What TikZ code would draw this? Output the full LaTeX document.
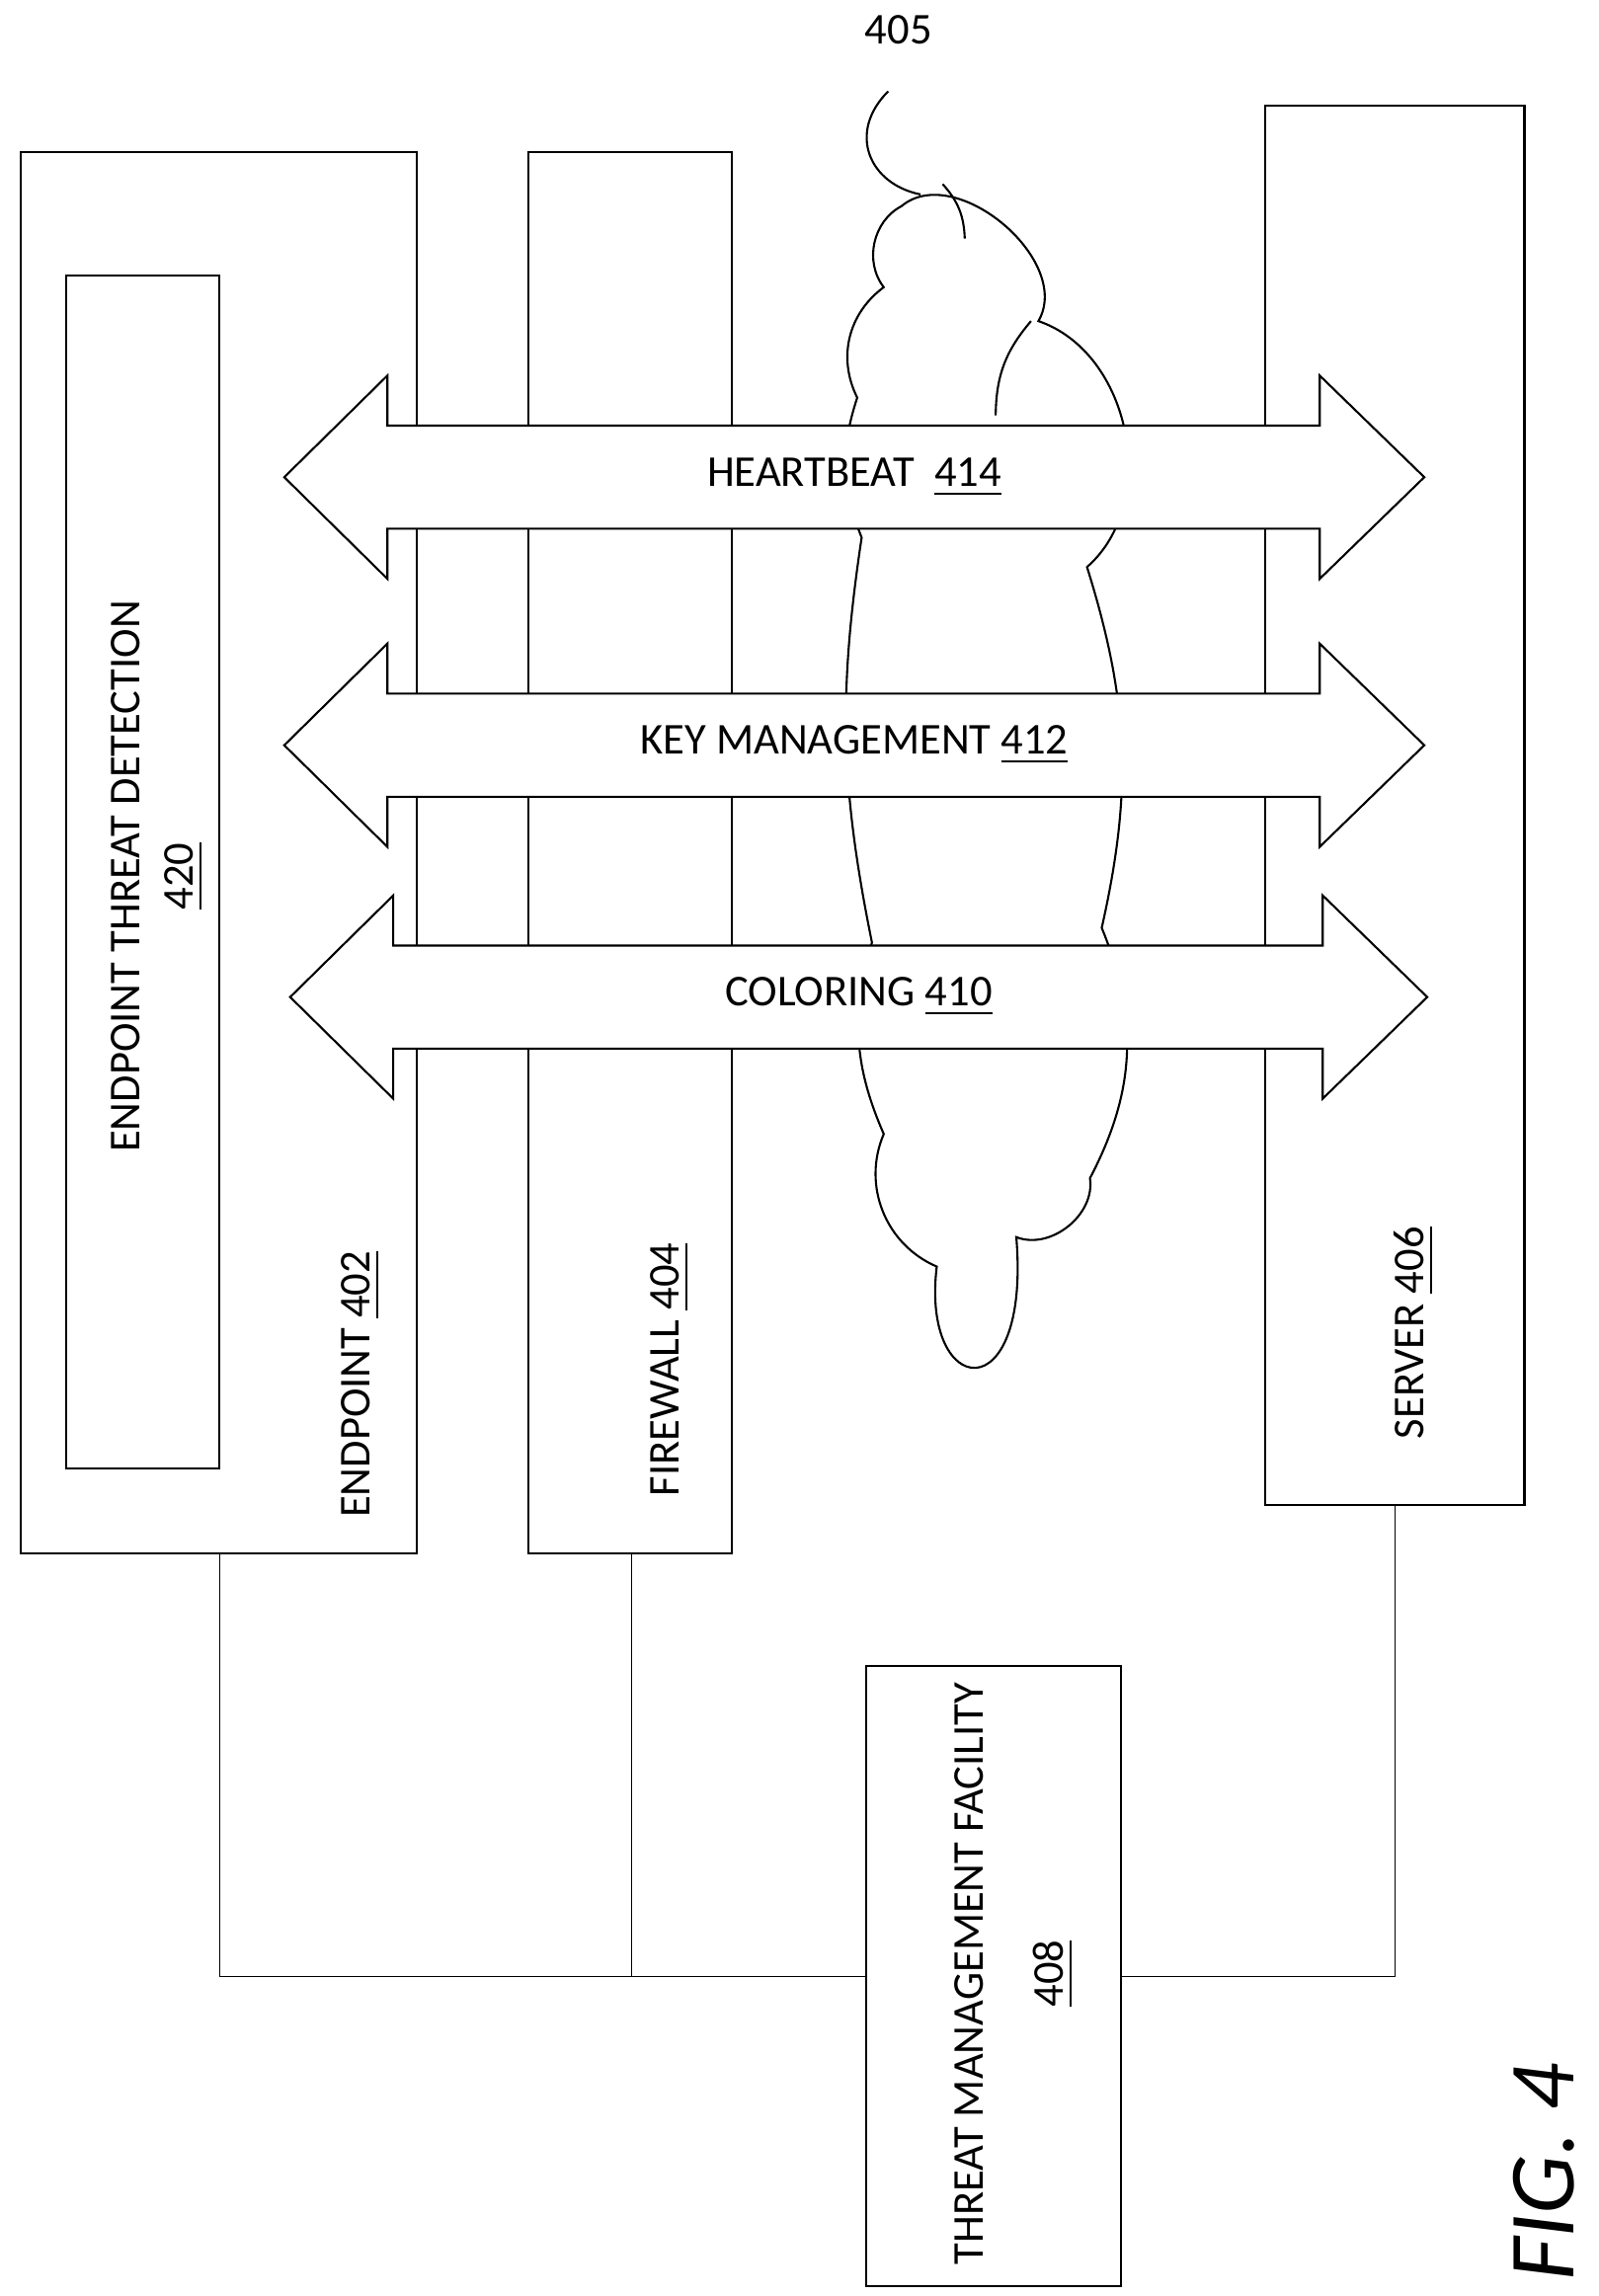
\documentclass[tikz,border=0pt]{standalone}
\usepackage{fontspec}
\setmainfont{Carlito}
\usetikzlibrary{shapes.arrows}

\begin{document}
\begin{tikzpicture}[x=0.01cm,y=-0.01cm,
            box-node/.style={draw,thin},
            label-text/.style={rotate=90,font=\fontsize{8.5}{10}\selectfont},
            flow-arrow/.style={draw,fill=white,thin},
            link/.style={draw,very thin},
        ]
            \useasboundingbox (0,0) rectangle (1085,1559);
            % boxes
            \draw[box-node] (14,103) rectangle (283,1055);
            \draw[box-node] (45,187) rectangle (149,997);
            \draw[box-node] (359,103) rectangle (497,1055);
            \draw[box-node] (859,72) rectangle (1035,1022);
            \draw[box-node] (588,1131) rectangle (761,1552);
            \coordinate (ep) at (149,1055);
            \coordinate (fw) at (429,1055);
            \coordinate (sv) at (947,1022);
            \coordinate (tmfl) at (588,1342);
            \coordinate (tmfr) at (761,1342);

            \node[label-text] (epl) at (245,940) {ENDPOINT \underline{402}};
            \node[label-text] (etd) at (85,595) {ENDPOINT THREAT DETECTION};
            \node[label-text] (etdn) at (125,595) {\underline{420}};
            \node[label-text] (fwl) at (455,930) {FIREWALL \underline{404}};
            \node[label-text] (svl) at (960,905) {SERVER \underline{406}};
            \node[label-text] (tmf) at (658,1340) {THREAT MANAGEMENT FACILITY};
            \node[label-text] (tmfn) at (715,1340) {\underline{408}};

            % cloud
            \draw[thin] (612,140) to[bend left=80] (705,218)
                to[bend left=60] (738,385) to[bend left=15] (748,630)
                to[bend left=25] (740,800) to[bend left=60] (690,840)
                .. controls (700,960) and (625,950) .. (636,860)
                to[bend left=45] (600,770)
                to[bend left=20] (592,640) to[bend left=10] (585,365)
                to[bend left=20] (582,270) to[bend left=40] (600,195)
                to[bend left=50] (612,140);
            \draw[thin] (640,125) to[bend left=20] (655,162);
            \draw[thin] (700,218) to[bend right=20] (676,282);
            \node (cloudn) at (610,20) {\fontsize{8.5}{10}\selectfont 405};
            \draw[thin] (603,62) .. controls (575,90) and (590,125) .. (625,132);

            % links
            \draw[link] (ep) |- (tmfl);
            \draw[link] (fw) -- (429,1342);
            \draw[link] (sv) |- (tmfr);

            % arrows
            \foreach \yc/\xl/\xr/\txt in {324/193/967/{HEARTBEAT~~\underline{414}},
                                          506/193/967/{KEY MANAGEMENT \underline{412}},
                                          677/197/969/{COLORING \underline{410}}}{
              \draw[flow-arrow] (\xl,\yc) -- (\xl+70,\yc-69) -- (\xl+70,\yc-35)
                 -- (\xr-71,\yc-35) -- (\xr-71,\yc-69) -- (\xr,\yc)
                 -- (\xr-71,\yc+69) -- (\xr-71,\yc+35) -- (\xl+70,\yc+35)
                 -- (\xl+70,\yc+69) -- cycle;
              \node[font=\fontsize{8.5}{10}\selectfont] at ({(\xl+\xr)/2},\yc) {\txt};
            }

            \node[rotate=90,font=\fontsize{18}{22}\selectfont\itshape] (fig) at (1048,1475) {FIG. 4};
\end{tikzpicture}
\end{document}
